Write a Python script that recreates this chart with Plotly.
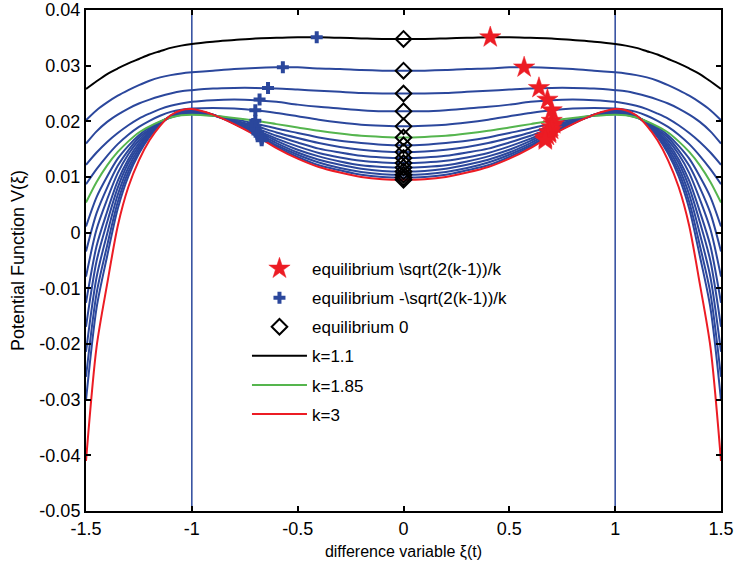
import plotly.graph_objects as go

# ---------------- data ----------------
xi_half = [0, 0.1, 0.2, 0.3, 0.4, 0.5, 0.6, 0.7, 0.8, 0.9, 1.0, 1.05, 1.1, 1.15, 1.2,
           1.25, 1.3, 1.35, 1.4, 1.45, 1.5]

v_k1_10 = [.0348, .0348, .0349, .0350, .0351, .0351, .0350, .0349, .0346, .0343, .0339,
           .0336, .0332, .0326, .0320, .0312, .0304, .0295, .0285, .0272, .0258]
v_blue1 = [.0291, .0291, .0292, .0294, .0295, .0297, .0297, .0296, .0294, .0291, .0288,
           .0286, .0283, .0279, .0273, .0265, .0256, .0246, .0234, .0220, .0202]
v_blue2 = [.0250, .0250, .0251, .0253, .0255, .0257, .0259, .0260, .0260, .0259, .0256,
           .0254, .0250, .0245, .0239, .0232, .0223, .0212, .0199, .0182, .0160]
v_blue3 = [.0218, .0218, .0220, .0223, .0226, .0230, .0235, .0238, .0239, .0238, .0235,
           .0232, .0228, .0222, .0214, .0205, .0193, .0179, .0163, .0144, .0122]
v_blue4 = [.0191, .0192, .0194, .0198, .0203, .0209, .0215, .0220, .0223, .0224, .0223,
           .0221, .0217, .0210, .0201, .0190, .0176, .0159, .0138, .0114, .0087]
v_k1_85 = [.0171, .0172, .0174, .0178, .0183, .0189, .0195, .0201, .0206, .0210, .0212,
           .0211, .0207, .0200, .0191, .0180, .0164, .0145, .0121, .0091, .0054]
v_blue6 = [.0157, .0158, .0161, .0165, .0171, .0179, .0187, .0196, .0204, .0210, .0213,
           .0212, .0207, .0199, .0189, .0175, .0156, .0133, .0101, .0064, .0011]
v_blue7 = [.0145, .0146, .0149, .0154, .0161, .0170, .0180, .0192, .0202, .0211, .0215,
           .0213, .0208, .0199, .0186, .0171, .0148, .0120, .0081, .0035, -.0034]
v_blue8 = [.0134, .0135, .0138, .0144, .0151, .0162, .0174, .0188, .0201, .0211, .0216,
           .0214, .0208, .0198, .0184, .0166, .0141, .0107, .0060, .0006, -.0079]
v_blue9 = [.0125, .0126, .0129, .0135, .0143, .0155, .0169, .0185, .0199, .0211, .0217,
           .0215, .0209, .0197, .0181, .0161, .0132, .0093, .0038, -.0024, -.0126]
v_blue10 = [.0117, .0118, .0121, .0128, .0137, .0149, .0165, .0183, .0198, .0211, .0218,
            .0215, .0209, .0196, .0179, .0156, .0125, .0081, .0019, -.0051, -.0169]
v_blue11 = [.0110, .0111, .0115, .0122, .0131, .0144, .0161, .0180, .0197, .0212, .0219,
            .0216, .0209, .0195, .0177, .0151, .0117, .0068, -.0002, -.0080, -.0214]
v_blue12 = [.0104, .0105, .0109, .0116, .0126, .0140, .0157, .0178, .0196, .0212, .0220,
            .0217, .0210, .0195, .0174, .0146, .0109, .0055, -.0023, -.0109, -.0259]
v_blue13 = [.0099, .0100, .0104, .0112, .0121, .0136, .0154, .0176, .0196, .0212, .0221,
            .0218, .0210, .0194, .0172, .0142, .0101, .0043, -.0042, -.0135, -.0301]
v_k3 = [.0095, .0096, .0100, .0108, .0118, .0133, .0152, .0175, .0195, .0212, .0222,
        .0220, .0211, .0192, .0166, .0130, .0082, .0012, -.0092, -.0205, -.0410]

# equilibria sqrt(2(k-1))/k  (positions and potential values)
eq_x = [0.41, 0.57, 0.64, 0.68, 0.70, 0.70, 0.71, 0.70, 0.70, 0.69, 0.69, 0.68, 0.67, 0.67, 0.67]
eq_y = [.0351, .0297, .0260, .0239, .0220, .0201, .0195, .0190, .0185, .0181, .0178,
        .0174, .0171, .0169, .0166]

vline_x = [-1, 1]
x_ticks = [-1.5, -1, -0.5, 0, 0.5, 1, 1.5]
x_ticktext = ["-1.5", "-1", "-0.5", "0", "0.5", "1", "1.5"]
y_ticks = [-0.05, -0.04, -0.03, -0.02, -0.01, 0, 0.01, 0.02, 0.03, 0.04]
y_ticktext = ["-0.05", "-0.04", "-0.03", "-0.02", "-0.01", "0", "0.01", "0.02", "0.03", "0.04"]

# ---------------- styles ----------------
BLUE = "#2b479c"
GREEN = "#55b54e"
RED = "#ec1c24"
BLACK = "#000000"
FONT = "Liberation Sans, Arial, sans-serif"


def full_x(half):
    return [-v for v in half[:0:-1]] + list(half)


def full_y(half):
    return list(half[:0:-1]) + list(half)


xf = full_x(xi_half)
fig = go.Figure()

blue_curves = [v_blue1, v_blue2, v_blue3, v_blue4, v_blue6, v_blue7, v_blue8,
               v_blue9, v_blue10, v_blue11, v_blue12, v_blue13]
for c in blue_curves:
    fig.add_trace(go.Scatter(x=xf, y=full_y(c), mode="lines",
                             line=dict(color=BLUE, width=2, shape="spline", smoothing=0.8),
                             showlegend=False, hoverinfo="skip"))

for name, c, col, rank in [("k=1.1", v_k1_10, BLACK, 4), ("k=1.85", v_k1_85, GREEN, 5),
                           ("k=3", v_k3, RED, 6)]:
    fig.add_trace(go.Scatter(x=xf, y=full_y(c), mode="lines", name=name,
                             line=dict(color=col, width=2, shape="spline", smoothing=0.8),
                             legendrank=rank, legendgroup=name))

all_curves = [v_k1_10, v_blue1, v_blue2, v_blue3, v_blue4, v_k1_85, v_blue6, v_blue7,
              v_blue8, v_blue9, v_blue10, v_blue11, v_blue12, v_blue13, v_k3]
fig.add_trace(go.Scatter(x=[xi_half[0]] * len(all_curves),
                         y=[c[0] for c in all_curves],
                         mode="markers", name="equilibrium 0",
                         marker=dict(symbol="diamond-open", size=12, color=BLACK,
                                     line=dict(width=2, color=BLACK)),
                         legendrank=3, legendgroup="g0"))
fig.add_trace(go.Scatter(x=[-v for v in eq_x], y=eq_y, mode="markers",
                         name="equilibrium -\\sqrt(2(k-1))/k",
                         marker=dict(symbol="cross", size=10, color=BLUE),
                         legendrank=2, legendgroup="gm"))
fig.add_trace(go.Scatter(x=eq_x, y=eq_y, mode="markers",
                         name="equilibrium \\sqrt(2(k-1))/k",
                         marker=dict(symbol="star", size=16, color=RED,
                                     line=dict(width=0.5, color=RED)),
                         legendrank=1, legendgroup="gp"))

for v in vline_x:
    fig.add_vline(x=v, line=dict(color=BLUE, width=1.5), layer="below")

axis_common = dict(showline=True, linewidth=2, linecolor="black", mirror="allticks",
                   ticks="inside", ticklen=5, tickwidth=1.5, tickcolor="black",
                   showgrid=False, zeroline=False, automargin=False,
                   tickfont=dict(family=FONT, size=18, color="black"))

fig.update_layout(
    width=735, height=569,
    margin=dict(l=86, r=14, t=10, b=58),
    paper_bgcolor="white", plot_bgcolor="white",
    font=dict(family=FONT, color="black"),
    xaxis=dict(range=[-1.5, 1.5], tickvals=x_ticks, ticktext=x_ticktext,
               title=dict(text="difference variable ξ(t)", font=dict(size=16), standoff=8),
               **axis_common),
    yaxis=dict(range=[-0.05, 0.04], tickvals=y_ticks, ticktext=y_ticktext,
               title=dict(text="Potential Function V(ξ)", font=dict(size=18), standoff=10),
               **axis_common),
    legend=dict(x=0.2535, y=0.519, xanchor="left", yanchor="top",
                bgcolor="rgba(0,0,0,0)", font=dict(size=17, family=FONT),
                tracegroupgap=4, traceorder="grouped", itemwidth=55),
    showlegend=True,
)

fig.write_html("out.html")
